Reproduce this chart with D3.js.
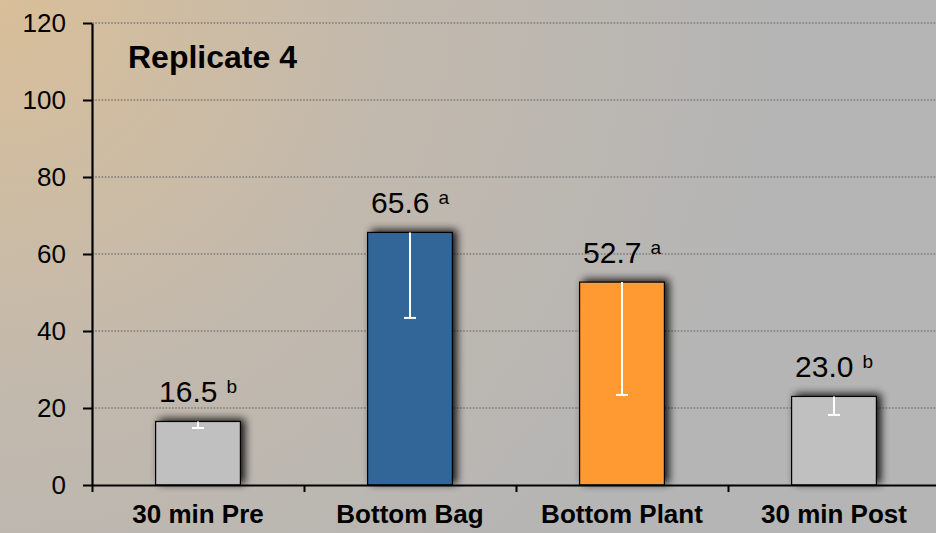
<!DOCTYPE html>
<html lang="en">
<head>
    <meta charset="UTF-8">
    <title>Replicate 4</title>
    <script src="https://d3js.org/d3.v7.min.js"></script>
    <style>
        html, body { margin: 0; padding: 0; }
        body { width: 936px; height: 533px; overflow: hidden; }
        text { font-family: Arial, "Liberation Sans", sans-serif; fill: #000; }
    </style>
</head>
<body>
    <svg id="chart" width="936" height="533"></svg>

    <script>
    "use strict";

    // chart data
    var categories = ["30 min Pre", "Bottom Bag", "Bottom Plant", "30 min Post"];
    var means = [16.5, 65.6, 52.7, 23.0];
    var errors = [1.7, 22.2, 29.3, 4.8];      // lower error only
    var letters = ["b", "a", "a", "b"];
    var yTicks = [0, 20, 40, 60, 80, 100, 120];
    var title = "Replicate 4";

    var barColors = ["#c0c0c0", "#336699", "#ff9933", "#c0c0c0"];

    var W = 936, H = 533;
    var plotLeft = 92, plotRight = 940, plotTop = 23, plotBottom = 485;

    var svg = d3.select("#chart");
    var defs = svg.append("defs");

    // background: tan in the top-left fading to grey
    var bg = defs.append("radialGradient")
        .attr("id", "bg")
        .attr("gradientUnits", "userSpaceOnUse")
        .attr("cx", 0).attr("cy", 0).attr("r", 780);
    bg.append("stop").attr("offset", "0%").attr("stop-color", "#d9bf99");
    bg.append("stop").attr("offset", "50%").attr("stop-color", "#c2b9ad");
    bg.append("stop").attr("offset", "100%").attr("stop-color", "#b5b5b5");

    var shadow = defs.append("filter")
        .attr("id", "shadow")
        .attr("x", "-30%").attr("y", "-30%")
        .attr("width", "160%").attr("height", "160%");
    shadow.append("feGaussianBlur").attr("in", "SourceAlpha").attr("stdDeviation", 4.5).attr("result", "b");
    shadow.append("feOffset").attr("in", "b").attr("dx", 4).attr("dy", -2).attr("result", "o");
    shadow.append("feComponentTransfer").attr("in", "o").attr("result", "s")
        .append("feFuncA").attr("type", "linear").attr("slope", 0.9);
    var merge = shadow.append("feMerge");
    merge.append("feMergeNode").attr("in", "s");
    merge.append("feMergeNode").attr("in", "SourceGraphic");

    svg.append("rect")
        .attr("width", W).attr("height", H)
        .attr("fill", "url(#bg)");

    var x = d3.scaleBand()
        .domain(categories)
        .range([plotLeft, plotRight])
        .paddingInner(0.6)
        .paddingOuter(0.3);

    var xEdge = d3.scaleLinear()
        .domain([0, categories.length])
        .range([plotLeft, plotRight]);

    var y = d3.scaleLinear()
        .domain([0, 120])
        .range([plotBottom, plotTop]);

    // gridlines
    svg.append("g")
        .selectAll("line")
        .data(yTicks.filter(function (d) { return d > 0; }))
        .join("line")
        .attr("x1", plotLeft).attr("x2", W)
        .attr("y1", function (d) { return y(d); })
        .attr("y2", function (d) { return y(d); })
        .attr("stroke", "#7c7c7c")
        .attr("stroke-width", 1.3)
        .attr("stroke-dasharray", "1.6 1.6");

    // bars
    var bars = svg.append("g")
        .selectAll("g")
        .data(categories)
        .join("g");

    bars.append("rect")
        .attr("x", function (d) { return x(d); })
        .attr("y", function (d, i) { return y(means[i]); })
        .attr("width", x.bandwidth())
        .attr("height", function (d, i) { return y(0) - y(means[i]); })
        .attr("fill", function (d, i) { return barColors[i]; })
        .attr("stroke", "#000")
        .attr("stroke-width", 1.2)
        .attr("filter", "url(#shadow)");

    // error bars (downward)
    var cx = function (d) { return x(d) + x.bandwidth() / 2; };
    bars.append("line")
        .attr("x1", cx).attr("x2", cx)
        .attr("y1", function (d, i) { return y(means[i]); })
        .attr("y2", function (d, i) { return y(means[i] - errors[i]); })
        .attr("stroke", "#fff")
        .attr("stroke-width", 2);
    bars.append("line")
        .attr("x1", function (d) { return cx(d) - 6; })
        .attr("x2", function (d) { return cx(d) + 6; })
        .attr("y1", function (d, i) { return y(means[i] - errors[i]); })
        .attr("y2", function (d, i) { return y(means[i] - errors[i]); })
        .attr("stroke", "#fff")
        .attr("stroke-width", 2);

    // value labels with superscript letters
    var lab = bars.append("text")
        .attr("x", cx)
        .attr("y", function (d, i) { return y(means[i]) - 19; })
        .attr("text-anchor", "middle")
        .style("font-size", "30px");
    lab.append("tspan")
        .text(function (d, i) { return means[i].toFixed(1); });
    lab.append("tspan")
        .attr("dx", 9)
        .attr("dy", -9)
        .style("font-size", "19px")
        .text(function (d, i) { return letters[i]; });

    // y axis
    var yAxis = svg.append("g")
        .attr("transform", "translate(" + plotLeft + ",0)")
        .call(d3.axisLeft(y).tickValues(yTicks).tickSize(9).tickPadding(17).tickSizeOuter(0));
    yAxis.select(".domain").attr("stroke", "#000").attr("stroke-width", 2.2);
    yAxis.selectAll(".tick line").attr("stroke", "#000").attr("stroke-width", 2);
    yAxis.selectAll(".tick text")
        .style("font-size", "26px")
        .style("font-family", "Arial, 'Liberation Sans', sans-serif")
        .attr("fill", "#000");

    // x axis: ticks sit between categories
    var xAxis = svg.append("g")
        .attr("transform", "translate(0," + plotBottom + ")")
        .call(d3.axisBottom(xEdge).tickValues(d3.range(categories.length + 1)).tickSize(7).tickSizeOuter(0).tickFormat(""));
    xAxis.select(".domain").attr("stroke", "#000").attr("stroke-width", 2.2);
    xAxis.selectAll(".tick line").attr("stroke", "#000").attr("stroke-width", 2);

    svg.append("g")
        .selectAll("text")
        .data(categories)
        .join("text")
        .attr("x", cx)
        .attr("y", 523)
        .attr("text-anchor", "middle")
        .style("font-size", "26px")
        .style("font-weight", "bold")
        .text(function (d) { return d; });

    svg.append("text")
        .attr("x", 128)
        .attr("y", 68)
        .style("font-size", "32px")
        .style("font-weight", "bold")
        .text(title);
    </script>
</body>
</html>
